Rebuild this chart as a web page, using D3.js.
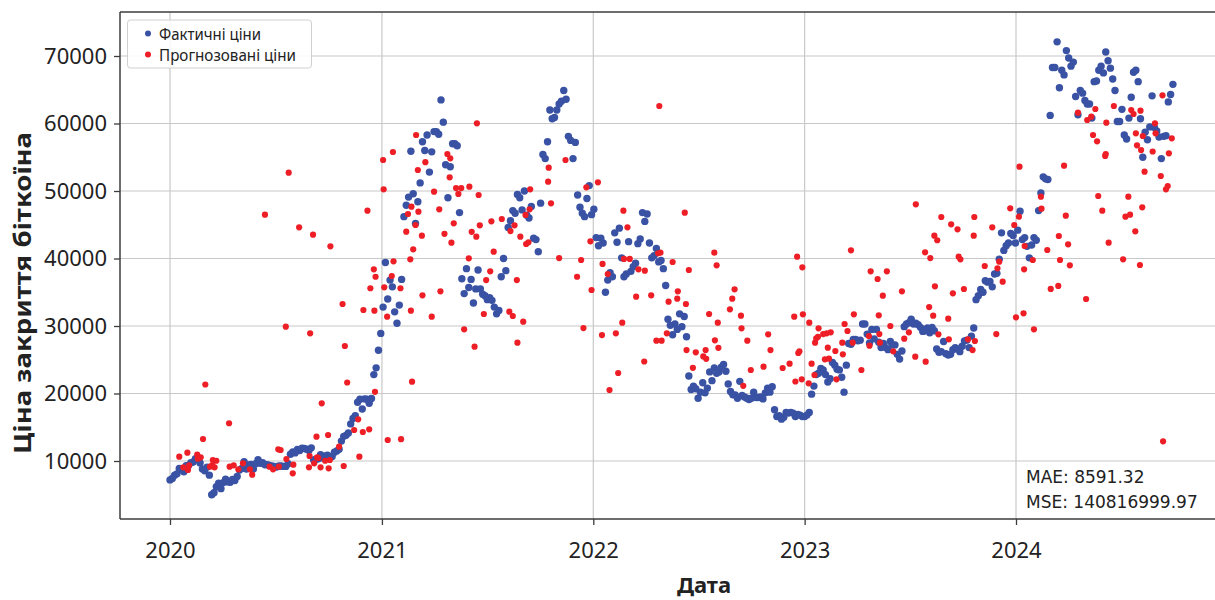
<!DOCTYPE html>
<html>
<head>
<meta charset="utf-8">
<script src="https://cdn.jsdelivr.net/npm/d3@7"></script>
<style>
  body { margin: 0; background: #fff; }
  svg { display: block; }
</style>
</head>
<body>
<div id="chart"></div>
<script>
// Actual closing prices, one reading every 4 days starting 2020-01-01
var actualStart = '2020-01-01';
var actualStepDays = 4;

var actual2020 = [7200, 7400, 7900, 8100, 8900, 8700, 8400, 9300,
    9350, 9750, 9850, 10350, 10200, 9700, 8800,
    8550, 9100, 7900, 5000, 5300, 6200, 6700, 5900,
    6800, 7300, 6900, 6850, 7250, 7100, 7700, 8650,
    8900, 9900, 8800, 9400, 9500, 8800, 9600,
    10200, 9650, 9750, 9450, 9450, 9350, 9250, 9200,
    9100, 9250, 9250, 9200, 9200, 9600, 11000, 11350,
    11200, 11700, 11550, 11900, 11850, 11750, 11550,
    11950, 10150, 10250, 10330, 10950, 10450, 10750, 10850,
    10550, 10650, 11300, 11500, 11750, 12950, 13650, 13800,
    14150, 15500, 16300, 16700, 18700, 19150, 17700,
    19200, 19150, 18550, 19250, 22800, 23800, 26400, 28900];

var actual2021 = [32800, 39400, 34000, 36800, 35800, 32100, 30400, 33100,
    36900, 46200, 47900, 49100, 55900, 49600, 45200,
    48400, 51200, 57300, 56000, 58300, 52800, 55800,
    58800, 58800, 58400, 63500, 60200, 53900, 49000, 53600,
    57000, 57000, 56700, 46800, 37000, 34800, 38500, 35700,
    36900, 33400, 35500, 38300, 35500, 34700, 34500,
    33900, 34200, 33800, 32800, 31800, 32300, 37300, 40000,
    38200, 44600, 45600, 47100, 46700, 49500, 49000, 47200,
    50000, 46400, 46000, 47700, 43000, 42800, 41000,
    48200, 55400, 54800, 57300, 62000, 60700, 60900, 62000,
    62900, 63300, 64900, 63600, 58100, 57500, 54800,
    57200, 49400, 47600, 46700, 46200, 48900, 50800, 46500];

var actual2022 = [47300, 43100, 41900, 43000, 42300, 35000, 36800, 37900,
    37300, 43800, 42400, 44500, 40100, 37300, 37700,
    42500, 38100, 38800, 39300, 42200, 42900, 46800, 45500,
    46600, 42300, 40100, 40400, 41500, 39500, 39700,
    38500, 36000, 31000, 30100, 28700, 30300, 29500, 31800,
    29900, 31400, 28400, 22600, 20600, 21100, 20700,
    19300, 20200, 21600, 20100, 20800, 23200, 21900, 23800,
    23000, 23200, 23900, 24300, 23300, 21400, 20300, 19800,
    19800, 19300, 21800, 19700, 19500, 19300, 19100,
    19300, 20200, 19400, 19400, 19500, 19200, 20100, 20800,
    20200, 21000, 17600, 16600, 16700, 16200, 16500, 17200,
    17100, 17200, 17100, 16600, 16900, 16800, 16600];

var actual2023 = [16600, 16800, 17200, 19900, 21100, 22800, 23000, 23700,
    23500, 22800, 21700, 22200, 24600, 24200, 23600,
    23500, 22400, 20200, 24200, 27400, 27300, 28000, 28000,
    27800, 27900, 30300, 30300, 28800, 27500, 29500,
    28100, 29500, 27600, 26800, 27400, 26800, 26500, 27700,
    27200, 27200, 25800, 25100, 26300, 29900, 30300, 30500,
    31000, 30300, 30400, 30200, 29800, 29200, 29300,
    29700, 29000, 29800, 29300, 26600, 26100, 26200, 27700,
    25900, 25700, 25800, 26500, 26800, 26600, 26200, 27000,
    27800, 27900, 26800, 28500, 29700, 33900, 34500,
    35400, 35000, 36700, 36500, 36600, 35800, 37700, 37800,
    39900, 43800, 41200, 41900, 42300, 43700, 43400, 42300];

var actual2024 = [44200, 47000, 42800, 43100, 41800, 40100, 42000,
    43100, 42700, 47100, 49700, 52100, 51800, 51700, 61200,
    68300, 68300, 72100, 65300, 67900, 67200, 70800,
    69700, 68500, 69100, 64000, 61300, 64900, 64500, 63400,
    62900, 62900, 60800, 66200, 66300, 67900, 68500, 67500,
    70600, 69300, 68200, 66600, 64900, 60300, 60300,
    62100, 58300, 57700, 60800, 63900, 67600, 67900, 66200,
    60700, 55000, 58700, 57600, 59500, 64100, 59400, 58900,
    58000, 54800, 58100, 58200, 63200, 64300, 65800];

// Model predictions: [date, predicted price]
var predicted2020 = [['2020-01-17', 10640], ['2020-01-24', 9070], ['2020-01-31', 11230], ['2020-02-01', 8670],
    ['2020-02-03', 9360], ['2020-02-17', 10930], ['2020-02-18', 10340], ['2020-02-23', 10540],
    ['2020-02-27', 13260], ['2020-03-02', 21330], ['2020-03-10', 9160], ['2020-03-14', 9410],
    ['2020-03-15', 10150], ['2020-03-18', 9070], ['2020-03-21', 10040], ['2020-04-12', 15590],
    ['2020-04-13', 9160], ['2020-04-20', 9360], ['2020-04-28', 8770], ['2020-05-06', 9660],
    ['2020-05-18', 8770], ['2020-05-22', 7970], ['2020-06-13', 46490], ['2020-06-21', 9160],
    ['2020-06-27', 8770], ['2020-07-06', 11730], ['2020-07-07', 9160], ['2020-07-10', 11630],
    ['2020-07-19', 29900], ['2020-07-20', 10300], ['2020-07-24', 52710], ['2020-07-31', 8180],
    ['2020-08-01', 9450], ['2020-08-11', 44620], ['2020-08-28', 9070], ['2020-08-29', 10740],
    ['2020-08-30', 28920], ['2020-09-04', 43530], ['2020-09-06', 9660], ['2020-09-10', 13600],
    ['2020-09-11', 10540], ['2020-09-13', 10450], ['2020-09-17', 9070], ['2020-09-19', 18550],
    ['2020-09-25', 10040], ['2020-09-30', 13850], ['2020-10-01', 8920], ['2020-10-03', 10150],
    ['2020-10-04', 41810], ['2020-10-19', 12120], ['2020-10-25', 33260], ['2020-10-27', 9260],
    ['2020-10-29', 27040], ['2020-11-02', 21630], ['2020-11-14', 14590], ['2020-11-21', 16180],
    ['2020-11-23', 10640], ['2020-11-29', 14300], ['2020-11-30', 32370], ['2020-12-07', 47080],
    ['2020-12-10', 14700], ['2020-12-12', 35590], ['2020-12-18', 38400], ['2020-12-19', 32270],
    ['2020-12-20', 20250], ['2020-12-21', 37300]];

var predicted2021 = [['2021-01-03', 54590], ['2021-01-04', 50250], ['2021-01-05', 35730], ['2021-01-10', 31380],
    ['2021-01-11', 13110], ['2021-01-18', 37410], ['2021-01-20', 55780], ['2021-01-21', 39580],
    ['2021-02-02', 35590], ['2021-02-03', 13230], ['2021-02-12', 43970], ['2021-02-15', 46590],
    ['2021-02-19', 39880], ['2021-02-20', 32270], ['2021-02-21', 47680], ['2021-02-22', 21750],
    ['2021-02-24', 41360], ['2021-02-28', 44960], ['2021-03-01', 58300], ['2021-03-04', 53110],
    ['2021-03-05', 46940], ['2021-03-11', 43380], ['2021-03-12', 34550], ['2021-03-17', 54270],
    ['2021-03-28', 31380], ['2021-04-01', 49900], ['2021-04-10', 47280], ['2021-04-12', 35140],
    ['2021-04-19', 43650], ['2021-04-24', 55480], ['2021-04-28', 52030], ['2021-04-29', 54840],
    ['2021-05-01', 42350], ['2021-05-05', 45210], ['2021-05-09', 50440], ['2021-05-13', 49560],
    ['2021-05-18', 50440], ['2021-05-23', 29510], ['2021-05-31', 40030], ['2021-06-01', 50640],
    ['2021-06-05', 43950], ['2021-06-10', 26930], ['2021-06-13', 43230], ['2021-06-14', 60030],
    ['2021-06-17', 49410], ['2021-06-19', 44920], ['2021-06-26', 31780], ['2021-06-30', 36810],
    ['2021-07-07', 38100], ['2021-07-09', 45510], ['2021-07-13', 41010], ['2021-07-27', 45850],
    ['2021-08-09', 32120], ['2021-08-11', 44070], ['2021-08-15', 31480], ['2021-08-18', 44920],
    ['2021-08-22', 36810], ['2021-08-23', 27530], ['2021-08-28', 43230], ['2021-09-02', 30640],
    ['2021-09-06', 46460], ['2021-09-07', 42150], ['2021-09-11', 42400], ['2021-09-13', 47280],
    ['2021-09-14', 50250], ['2021-10-15', 51380], ['2021-10-16', 53450], ['2021-10-20', 48180],
    ['2021-11-03', 40070], ['2021-11-14', 54590], ['2021-12-04', 37300], ['2021-12-11', 39780],
    ['2021-12-15', 29700], ['2021-12-20', 50550], ['2021-12-27', 42550], ['2021-12-29', 35330]];

var predicted2022 = [['2022-01-09', 51280], ['2022-01-16', 28650], ['2022-01-17', 39190], ['2022-01-26', 37700],
    ['2022-01-29', 20520], ['2022-02-09', 28910], ['2022-02-13', 23040], ['2022-02-20', 30490],
    ['2022-02-22', 47080], ['2022-02-23', 39930], ['2022-03-01', 44620], ['2022-03-05', 39930],
    ['2022-03-16', 34340], ['2022-03-20', 38400], ['2022-03-30', 24740], ['2022-03-31', 38190],
    ['2022-04-11', 34550], ['2022-04-20', 27820], ['2022-04-23', 40770], ['2022-04-25', 62590],
    ['2022-04-27', 40860], ['2022-04-29', 27820], ['2022-05-08', 28920], ['2022-05-11', 33600],
    ['2022-05-18', 39480], ['2022-05-26', 34050], ['2022-05-27', 35140], ['2022-06-08', 46790],
    ['2022-06-10', 33260], ['2022-06-11', 26440], ['2022-06-15', 38300], ['2022-06-22', 23800],
    ['2022-06-27', 26100], ['2022-07-10', 25500], ['2022-07-14', 26440], ['2022-07-15', 25140],
    ['2022-07-20', 31780], ['2022-07-29', 40860], ['2022-07-30', 27880], ['2022-08-02', 38990],
    ['2022-08-04', 30490], ['2022-08-05', 26760], ['2022-08-25', 32470], ['2022-08-29', 34050],
    ['2022-09-02', 35440], ['2022-09-13', 31530], ['2022-09-14', 29660], ['2022-09-17', 21130],
    ['2022-09-24', 27820], ['2022-09-30', 23480], ['2022-10-22', 23970], ['2022-10-30', 28770],
    ['2022-11-03', 26440], ['2022-11-24', 23780], ['2022-12-06', 24420], ['2022-12-14', 31380],
    ['2022-12-16', 21780], ['2022-12-19', 40270], ['2022-12-21', 26000], ['2022-12-23', 26250],
    ['2022-12-27', 22100], ['2022-12-28', 38700], ['2022-12-29', 31730]];

var predicted2023 = [['2023-01-08', 21510], ['2023-01-09', 30490], ['2023-01-13', 24420], ['2023-01-18', 22740],
    ['2023-01-19', 27530], ['2023-01-21', 28170], ['2023-01-24', 28410], ['2023-01-25', 29660],
    ['2023-02-02', 28810], ['2023-02-05', 25070], ['2023-02-08', 28920], ['2023-02-10', 26790],
    ['2023-02-12', 25160], ['2023-02-15', 29070], ['2023-02-23', 26300], ['2023-02-25', 22100],
    ['2023-03-07', 27530], ['2023-03-08', 25810], ['2023-03-11', 30300], ['2023-03-16', 29260],
    ['2023-03-22', 41210], ['2023-03-25', 27530], ['2023-03-27', 31730], ['2023-04-09', 23480],
    ['2023-04-22', 28520], ['2023-04-23', 27080], ['2023-04-25', 38100], ['2023-05-07', 36960],
    ['2023-05-09', 31580], ['2023-05-10', 28810], ['2023-05-11', 27530], ['2023-05-16', 34490],
    ['2023-05-23', 38100], ['2023-05-29', 30000], ['2023-06-03', 26250], ['2023-06-18', 35140],
    ['2023-06-22', 28120], ['2023-06-30', 29070], ['2023-07-11', 25450], ['2023-07-12', 48030],
    ['2023-07-28', 40920], ['2023-07-29', 24710], ['2023-08-04', 32810], ['2023-08-06', 40070],
    ['2023-08-11', 31530], ['2023-08-13', 43380], ['2023-08-14', 35880], ['2023-08-18', 42700],
    ['2023-08-20', 28770], ['2023-08-25', 46150], ['2023-09-06', 31090], ['2023-09-07', 28030],
    ['2023-09-11', 45070], ['2023-09-14', 34840], ['2023-09-22', 44320], ['2023-09-24', 40270],
    ['2023-09-27', 39880], ['2023-10-03', 35480], ['2023-10-10', 28030], ['2023-10-18', 26440],
    ['2023-10-20', 43380], ['2023-10-21', 46150], ['2023-10-22', 27780], ['2023-11-08', 38890],
    ['2023-11-21', 44620], ['2023-11-28', 28810], ['2023-11-30', 38550], ['2023-12-03', 39530],
    ['2023-12-09', 36560], ['2023-12-22', 47440], ['2023-12-29', 44960]];

var predicted2024 = [['2024-01-01', 31280], ['2024-01-06', 46190], ['2024-01-07', 53600], ['2024-01-14', 31880],
    ['2024-01-15', 38400], ['2024-01-16', 41850], ['2024-01-30', 39780], ['2024-02-01', 29510],
    ['2024-02-13', 49160], ['2024-02-14', 47380], ['2024-02-24', 41260], ['2024-03-01', 35500],
    ['2024-03-14', 35930], ['2024-03-15', 43330], ['2024-03-17', 39780], ['2024-03-24', 53750],
    ['2024-03-27', 46340], ['2024-03-31', 42100], ['2024-04-03', 38990], ['2024-04-17', 61600],
    ['2024-05-01', 34000], ['2024-05-03', 60520], ['2024-05-10', 61010], ['2024-05-13', 58300],
    ['2024-05-17', 62150], ['2024-05-20', 57360], ['2024-05-22', 49260], ['2024-05-29', 47080],
    ['2024-06-03', 55190], ['2024-06-04', 55480], ['2024-06-05', 60120], ['2024-06-09', 42350],
    ['2024-06-18', 62590], ['2024-07-04', 39880], ['2024-07-08', 46200], ['2024-07-13', 49160],
    ['2024-07-16', 46490], ['2024-07-18', 62000], ['2024-07-22', 61410], ['2024-07-25', 44030],
    ['2024-07-26', 58550], ['2024-07-28', 56770], ['2024-08-02', 39040], ['2024-08-03', 61900],
    ['2024-08-04', 56070], ['2024-08-06', 47580], ['2024-08-07', 58150], ['2024-08-10', 52860],
    ['2024-08-24', 55850], ['2024-08-28', 60030], ['2024-08-29', 58550], ['2024-09-07', 52220],
    ['2024-09-10', 64170], ['2024-09-11', 12920], ['2024-09-16', 50250], ['2024-09-19', 50740],
    ['2024-09-21', 55580], ['2024-09-26', 57800]];

var yearTicks = ['2020-01-01', '2021-01-01', '2022-01-01', '2023-01-01', '2024-01-01'];
var priceTicks = [10000, 20000, 30000, 40000, 50000, 60000, 70000];
var legendLabels = ['Фактичні ціни', 'Прогнозовані ціни'];
var metricLines = ['MAE: 8591.32', 'MSE: 140816999.97'];

var width = 1215, height = 600;
var plot = {left: 120, right: 1215, top: 12, bottom: 519};
var blue = '#3952a4', red = '#ee1e26';
var tickFont = '"Noto Sans", sans-serif';

var svg = d3.select('#chart')
    .append('svg')
    .attr('width', width)
    .attr('height', height);

var x = d3.scaleUtc()
    .domain([new Date('2020-01-01'), new Date('2024-01-01')])
    .range([170, 1016]);
var y = d3.scaleLinear().domain([10000, 70000]).range([461, 56]);

var start = new Date(actualStart);
var actual = actual2020.concat(actual2021, actual2022, actual2023, actual2024)
    .map(function (v, i) {
        return {date: d3.utcDay.offset(start, i * actualStepDays), value: v};
    });
var predicted = predicted2020.concat(predicted2021, predicted2022, predicted2023, predicted2024)
    .map(function (d) {
        return {date: new Date(d[0]), value: d[1]};
    });

svg.append('defs').append('clipPath').attr('id', 'plot-clip')
    .append('rect')
    .attr('x', plot.left).attr('y', plot.top)
    .attr('width', plot.right - plot.left).attr('height', plot.bottom - plot.top);

// grid
var grid = svg.append('g').attr('stroke', '#c8c8c8').attr('stroke-width', 1.2);
grid.selectAll('.vgrid').data(yearTicks).enter().append('line')
    .attr('x1', function (d) { return x(new Date(d)); })
    .attr('x2', function (d) { return x(new Date(d)); })
    .attr('y1', plot.top).attr('y2', plot.bottom);
grid.selectAll('.hgrid').data(priceTicks).enter().append('line')
    .attr('x1', plot.left).attr('x2', plot.right)
    .attr('y1', function (d) { return y(d); })
    .attr('y2', function (d) { return y(d); });

// points: actual first, predictions drawn on top
var dots = svg.append('g').attr('clip-path', 'url(#plot-clip)');
dots.selectAll('.actual').data(actual).enter().append('circle')
    .attr('cx', function (d) { return x(d.date); })
    .attr('cy', function (d) { return y(d.value); })
    .attr('r', 3.7)
    .attr('fill', blue);
dots.selectAll('.pred').data(predicted).enter().append('circle')
    .attr('cx', function (d) { return x(d.date); })
    .attr('cy', function (d) { return y(d.value); })
    .attr('r', 3.1)
    .attr('fill', red);

// axes
var yAxis = svg.append('g')
    .attr('transform', 'translate(' + plot.left + ',0)')
    .call(d3.axisLeft(y).tickValues(priceTicks).tickFormat(d3.format('d')).tickSize(6).tickPadding(7));
var xAxis = svg.append('g')
    .attr('transform', 'translate(0,' + plot.bottom + ')')
    .call(d3.axisBottom(x).tickValues(yearTicks.map(function (d) { return new Date(d); }))
        .tickFormat(d3.utcFormat('%Y')).tickSize(6).tickPadding(17));
[xAxis, yAxis].forEach(function (g) {
    g.select('.domain').remove();
    g.selectAll('.tick line').attr('stroke', '#3c3c3c').attr('stroke-width', 1.3);
    g.selectAll('.tick text').attr('fill', '#222').style('font-family', tickFont).style('font-size', '22px');
});

// spines
var spines = svg.append('g').attr('stroke', '#3c3c3c').attr('stroke-width', 1.5);
spines.append('line').attr('x1', plot.left).attr('x2', plot.left).attr('y1', plot.top).attr('y2', plot.bottom);
spines.append('line').attr('x1', plot.left).attr('x2', plot.right).attr('y1', plot.bottom).attr('y2', plot.bottom);
spines.append('line').attr('x1', plot.left).attr('x2', plot.right).attr('y1', plot.top).attr('y2', plot.top);

// axis titles
svg.append('text')
    .attr('transform', 'translate(31,293) rotate(-90)')
    .attr('text-anchor', 'middle')
    .attr('textLength', 322).attr('lengthAdjust', 'spacingAndGlyphs')
    .style('font-family', tickFont).style('font-weight', 'bold').style('font-size', '23px')
    .attr('fill', '#222')
    .text('Ціна закриття біткоїна');
svg.append('text')
    .attr('x', 704).attr('y', 593)
    .attr('text-anchor', 'middle')
    .style('font-family', tickFont).style('font-weight', 'bold').style('font-size', '22px')
    .attr('fill', '#222')
    .text('Дата');

// legend
var legend = svg.append('g');
legend.append('rect')
    .attr('x', 127.5).attr('y', 20).attr('width', 184).attr('height', 48).attr('rx', 3)
    .attr('fill', '#fff').attr('fill-opacity', 0.85)
    .attr('stroke', '#d0d0d0').attr('stroke-width', 1);
var legendItems = legend.selectAll('.item').data(legendLabels).enter().append('g')
    .attr('transform', function (d, i) { return 'translate(0,' + (33.5 + i * 21) + ')'; });
legendItems.append('circle')
    .attr('cx', 148).attr('r', 3)
    .attr('fill', function (d, i) { return i === 0 ? blue : red; });
legendItems.append('text')
    .attr('x', 159).attr('y', 6)
    .attr('textLength', function (d, i) { return i === 0 ? 102 : 137; })
    .attr('lengthAdjust', 'spacingAndGlyphs')
    .style('font-family', tickFont).style('font-size', '17px')
    .attr('fill', '#222')
    .text(function (d) { return d; });

// metrics text
svg.selectAll('.metric').data(metricLines).enter().append('text')
    .attr('x', 1026)
    .attr('y', function (d, i) { return 483 + i * 25; })
    .style('font-family', '"DejaVu Sans", sans-serif').style('font-size', '17px')
    .attr('fill', '#222')
    .text(function (d) { return d; });
</script>
</body>
</html>
